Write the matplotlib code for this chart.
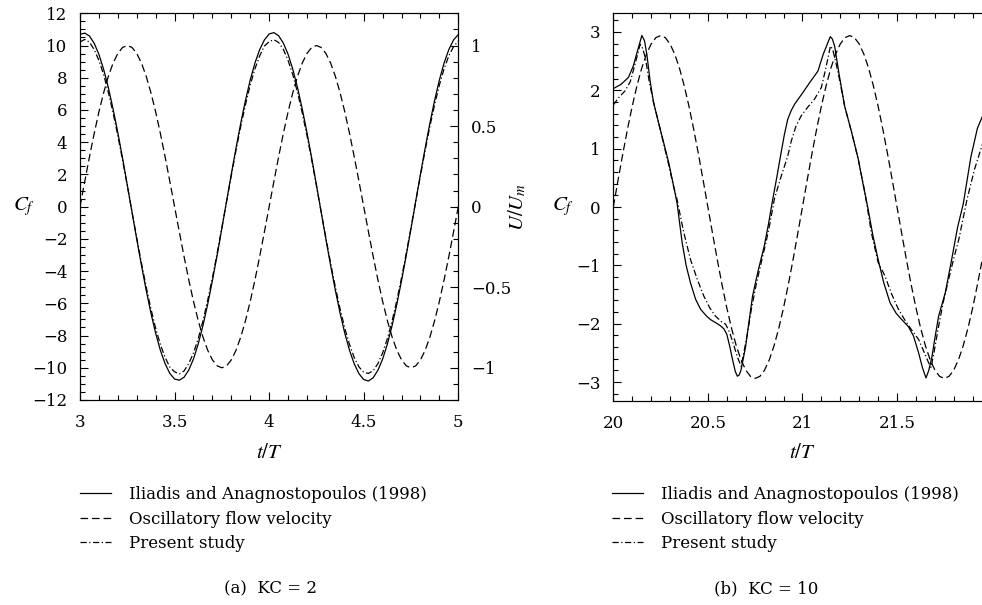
import numpy as np
import matplotlib
matplotlib.use("Agg")
import matplotlib.pyplot as plt
from matplotlib.lines import Line2D
from matplotlib.ticker import MultipleLocator, FuncFormatter, FixedLocator

# ---------------- data ----------------
# (a) KC = 2, samples every 0.025 t/T from 3 to 5
t_a = np.round(3 + 0.025 * np.arange(81), 3)
cf_iliadis_a = [10.70, 10.77, 10.59, 10.14, 9.45, 8.52, 7.38, 6.06, 4.59, 3.01,
                1.35, -0.34, -2.02, -3.65, -5.19, -6.61, -7.86, -8.92, -9.75, -10.35,
                -10.70, -10.77, -10.59, -10.14, -9.45, -8.52, -7.38, -6.06, -4.59, -3.01,
                -1.35, 0.34, 2.02, 3.65, 5.19, 6.61, 7.86, 8.92, 9.75, 10.35,
                10.72, 10.80, 10.61, 10.15, 9.46, 8.53, 7.39, 6.06, 4.59, 3.01,
                1.35, -0.34, -2.02, -3.65, -5.19, -6.61, -7.86, -8.92, -9.76, -10.37,
                -10.73, -10.82, -10.62, -10.15, -9.46, -8.53, -7.38, -6.06, -4.59, -3.01,
                -1.35, 0.34, 2.02, 3.65, 5.19, 6.61, 7.86, 8.92, 9.75, 10.35, 10.68]
cf_present_a = [10.22, 10.38, 10.21, 9.75, 9.08, 8.19, 7.09, 5.82, 4.41, 2.89,
                1.30, -0.33, -1.94, -3.51, -4.99, -6.34, -7.55, -8.56, -9.36, -9.96,
                -10.25, -10.38, -10.20, -9.74, -9.08, -8.19, -7.09, -5.82, -4.41, -2.89,
                -1.30, 0.33, 1.94, 3.51, 4.99, 6.34, 7.55, 8.56, 9.36, 9.97,
                10.24, 10.36, 10.19, 9.76, 9.08, 8.19, 7.09, 5.82, 4.41, 2.89,
                1.30, -0.33, -1.94, -3.51, -4.99, -6.34, -7.55, -8.56, -9.37, -9.95,
                -10.28, -10.35, -10.18, -9.74, -9.08, -8.19, -7.09, -5.82, -4.41, -2.89,
                -1.30, 0.33, 1.94, 3.51, 4.99, 6.34, 7.55, 8.56, 9.36, 9.94, 10.27]
# oscillatory flow velocity U/Um (same samples for both panels)
u_vel = [0.0, 0.156, 0.309, 0.454, 0.588, 0.707, 0.809, 0.891, 0.951, 0.988,
         1.0, 0.988, 0.951, 0.891, 0.809, 0.707, 0.588, 0.454, 0.309, 0.156,
         0.0, -0.156, -0.309, -0.454, -0.588, -0.707, -0.809, -0.891, -0.951, -0.988,
         -1.0, -0.988, -0.951, -0.891, -0.809, -0.707, -0.588, -0.454, -0.309, -0.156,
         0.0, 0.156, 0.309, 0.454, 0.588, 0.707, 0.809, 0.891, 0.951, 0.988,
         1.0, 0.988, 0.951, 0.891, 0.809, 0.707, 0.588, 0.454, 0.309, 0.156,
         0.0, -0.156, -0.309, -0.454, -0.588, -0.707, -0.809, -0.891, -0.951, -0.988,
         -1.0, -0.988, -0.951, -0.891, -0.809, -0.707, -0.588, -0.454, -0.309, -0.156, 0.0]

# (b) KC = 10
t_b = np.round(20 + 0.025 * np.arange(81), 3)
t_iliadis_b = [20.00, 20.04, 20.08, 20.106, 20.13, 20.151, 20.165, 20.178, 20.195, 20.213,
               20.239, 20.265, 20.293, 20.315, 20.337, 20.364, 20.385, 20.408, 20.435, 20.461,
               20.49, 20.514, 20.545, 20.568, 20.585, 20.60, 20.615, 20.63, 20.645, 20.656,
               20.665, 20.674, 20.687, 20.70, 20.718, 20.736, 20.765, 20.798, 20.82, 20.84,
               20.865, 20.887, 20.905, 20.922, 20.94, 20.96, 20.98, 21.002, 21.04, 21.082,
               21.11, 21.147, 21.158, 21.17, 21.195, 21.223, 21.26, 21.295, 21.32, 21.345,
               21.372, 21.40, 21.43, 21.463, 21.495, 21.525, 21.56, 21.587, 21.614, 21.635,
               21.653, 21.668, 21.685, 21.70, 21.72, 21.755, 21.79, 21.82, 21.85, 21.89,
               21.925, 21.96, 22.00]
cf_iliadis_b = [2.03, 2.10, 2.22, 2.42, 2.70, 2.94, 2.85, 2.60, 2.15, 1.79,
                1.45, 1.12, 0.76, 0.42, 0.07, -0.61, -1.00, -1.30, -1.58, -1.75,
                -1.86, -1.93, -1.99, -2.04, -2.09, -2.18, -2.38, -2.61, -2.82, -2.90,
                -2.88, -2.81, -2.60, -2.38, -1.95, -1.53, -1.10, -0.67, -0.30, 0.08,
                0.52, 0.93, 1.25, 1.50, 1.65, 1.77, 1.86, 1.96, 2.14, 2.33,
                2.62, 2.92, 2.88, 2.76, 2.25, 1.73, 1.28, 0.82, 0.40, 0.0,
                -0.48, -0.90, -1.30, -1.64, -1.82, -1.93, -2.05, -2.21, -2.50, -2.76,
                -2.93, -2.80, -2.56, -2.25, -1.87, -1.47, -0.88, -0.35, 0.05, 0.85,
                1.35, 1.62, 1.90]
t_present_b = [20.00, 20.03, 20.062, 20.09, 20.115, 20.142, 20.155, 20.17, 20.19, 20.213,
               20.239, 20.265, 20.293, 20.315, 20.337, 20.37, 20.408, 20.445, 20.479, 20.51,
               20.54, 20.57, 20.594, 20.615, 20.638, 20.657, 20.676, 20.69, 20.71, 20.73,
               20.754, 20.78, 20.807, 20.83, 20.851, 20.885, 20.922, 20.94, 20.965, 20.993,
               21.03, 21.064, 21.10, 21.125, 21.148, 21.16, 21.175, 21.195, 21.223, 21.26,
               21.295, 21.33, 21.365, 21.40, 21.436, 21.47, 21.507, 21.54, 21.569, 21.614,
               21.645, 21.667, 21.68, 21.695, 21.72, 21.745, 21.773, 21.80, 21.827, 21.87,
               21.91, 21.96, 22.00]
cf_present_b = [1.75, 1.88, 1.99, 2.15, 2.45, 2.79, 2.72, 2.55, 2.15, 1.79,
                1.45, 1.10, 0.72, 0.40, 0.13, -0.40, -0.90, -1.25, -1.53, -1.73,
                -1.87, -1.96, -2.01, -2.15, -2.38, -2.58, -2.73, -2.50, -2.15, -1.75,
                -1.35, -0.98, -0.61, -0.25, 0.13, 0.50, 0.87, 1.12, 1.38, 1.56,
                1.72, 1.85, 2.05, 2.40, 2.76, 2.70, 2.50, 2.20, 1.73, 1.28,
                0.82, 0.25, -0.45, -0.95, -1.18, -1.48, -1.75, -1.93, -2.07, -2.27,
                -2.50, -2.67, -2.75, -2.50, -2.04, -1.62, -1.24, -0.88, -0.55, 0.13,
                0.65, 1.16, 1.45]

labels = ["Iliadis and Anagnostopoulos (1998)", "Oscillatory flow velocity", "Present study"]
captions = ["(a)  KC = 2", "(b)  KC = 10"]
xticks_b = [20, 20.5, 21, 21.5]

# ---------------- style ----------------
plt.rcParams['font.family'] = ['DejaVu Serif']
plt.rcParams['mathtext.fontset'] = 'stix'
plt.rcParams['lines.scale_dashes'] = False
FS = 12
DASH = (5.5, 2.8)
DASHDOT = (4.5, 1.8, 0.9, 1.8)
LW = 0.9

fig = plt.figure(figsize=(9.82, 6.05), dpi=100)
W, H = 982.0, 605.0


def fmt(v, pos):
    s = "%g" % round(v, 3)
    if s == "-0":
        s = "0"
    return s.replace("-", "\u2212")


def style(ax, xmaj, xmin, ymaj, ymin, left=True, right=False, labelright=None):
    if labelright is None:
        labelright = right
    ax.xaxis.set_major_locator(MultipleLocator(xmaj))
    ax.xaxis.set_minor_locator(MultipleLocator(xmin))
    ax.yaxis.set_major_locator(MultipleLocator(ymaj))
    ax.yaxis.set_minor_locator(MultipleLocator(ymin))
    ax.xaxis.set_major_formatter(FuncFormatter(fmt))
    ax.yaxis.set_major_formatter(FuncFormatter(fmt))
    ax.tick_params(which='both', direction='in', top=True, bottom=True,
                   left=left, right=right, labelleft=left, labelright=labelright,
                   width=0.8, labelsize=FS)
    ax.tick_params(axis='y', pad=9)
    ax.tick_params(axis='x', pad=10)
    ax.tick_params(which='major', length=6)
    ax.tick_params(which='minor', length=3.5)
    for sp in ax.spines.values():
        sp.set_linewidth(0.8)


def add_panel(rect, cf_il_t, cf_il, cf_pr_t, cf_pr, tv, xlim, ylim, ulim):
    ax = fig.add_axes(rect)
    ax.plot(cf_il_t, cf_il, color='black', lw=LW)
    ax.plot(cf_pr_t, cf_pr, color='black', lw=LW, dashes=DASHDOT)
    ax.set_xlim(*xlim)
    ax.set_ylim(*ylim)
    tw = ax.twinx()
    tw.plot(tv, u_vel, color='black', lw=LW, dashes=DASH)
    tw.set_ylim(*ulim)
    tw.set_xlim(*xlim)
    return ax, tw


# panel (a)
ax1, tw1 = add_panel([80 / W, 1 - 400 / H, 378.3 / W, 386.7 / H],
                     t_a, cf_iliadis_a, t_a, cf_present_a, t_a,
                     (3, 5), (-12, 12), (-1.2, 1.2))
style(ax1, 0.5, 0.1, 2, 0.5, left=True, right=False)
style(tw1, 0.5, 0.1, 0.5, 0.1, left=False, right=True)

# panel (b)  (its right edge lies just outside the picture, as in the reference)
ax2, tw2 = add_panel([613.3 / W, 1 - 400.7 / H, 378.3 / W, 387.4 / H],
                     t_iliadis_b, cf_iliadis_b, t_present_b, cf_present_b, t_b,
                     (20, 22), (-3.32, 3.32), (-1.13, 1.13))
style(ax2, 0.5, 0.1, 1, 0.2, left=True, right=False)
style(tw2, 0.5, 0.1, 0.5, 0.1, left=False, right=True, labelright=False)
ax2.xaxis.set_major_locator(FixedLocator(xticks_b))
tw2.xaxis.set_major_locator(FixedLocator(xticks_b))

# axis labels
fig.text(24 / W, 1 - 207 / H, r'$C_f$', ha='center', va='center', fontsize=15)
fig.text(517 / W, 1 - 207 / H, r'$U/U_m$', ha='center', va='center', fontsize=15, rotation=90)
fig.text(563 / W, 1 - 207 / H, r'$C_f$', ha='center', va='center', fontsize=15)
fig.text(269 / W, 1 - 452 / H, r'$t/T$', ha='center', va='center', fontsize=15)
fig.text(802 / W, 1 - 452 / H, r'$t/T$', ha='center', va='center', fontsize=15)

# legends
handles = [Line2D([], [], color='black', lw=LW),
           Line2D([], [], color='black', lw=LW, dashes=DASH),
           Line2D([], [], color='black', lw=LW, dashes=DASHDOT)]
for x0 in (80, 612):
    fig.legend(handles, labels, loc='upper left',
               bbox_to_anchor=(x0 / W, 1 - 486 / H), frameon=False,
               borderpad=0, borderaxespad=0, handlelength=1.85,
               handletextpad=1.1, labelspacing=0.45, fontsize=FS)

# captions
fig.text(270 / W, 1 - 589 / H, captions[0], ha='center', va='center', fontsize=FS)
fig.text(766 / W, 1 - 589 / H, captions[1], ha='center', va='center', fontsize=FS)

fig.savefig('out.png', dpi=100)
